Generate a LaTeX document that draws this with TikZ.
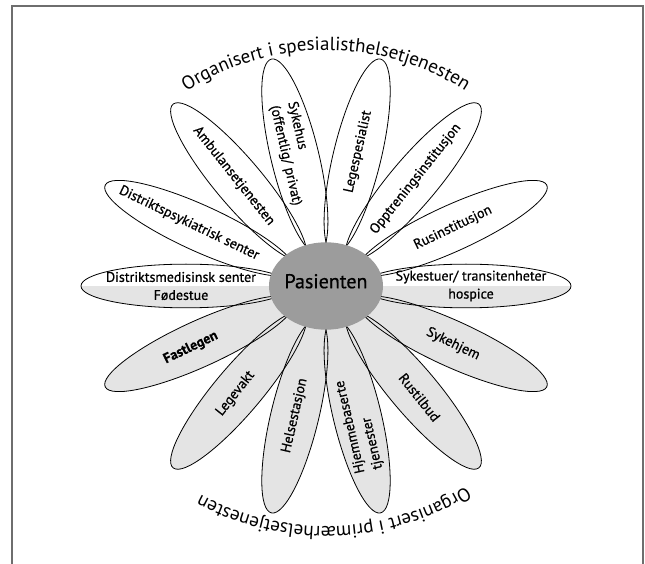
\documentclass[tikz,border=0pt]{standalone}
\usepackage{fontspec}
\setmainfont{PT Sans}
\newfontfamily\petalfont{PT Sans}[FakeBold=0.7]
\newfontfamily\heavyfont{PT Sans Bold}[FakeBold=0.6]
\usetikzlibrary{decorations.text}
\definecolor{petalgray}{HTML}{E4E4E4}
\definecolor{centergray}{HTML}{9C9C9C}
\definecolor{framegray}{HTML}{6E6E6E}
\begin{document}
\begin{tikzpicture}[x=1pt,y=1pt,
  petalline/.style={draw=black, line width=0.8pt},
  ptext/.style={font=\petalfont\fontsize{14}{18}\selectfont, align=center, inner sep=0pt},
  arctext/.style={decorate, decoration={text along path, text align=center, text={#1}}}
]
\useasboundingbox (-326,-278) rectangle (319,286);
\draw[framegray, line width=1.1pt] (-314,-280) -- (-314,280) -- (317,280) -- (317,-280);
\begin{scope}[yscale=0.95]
  % fills
  \foreach \a in {25.714,51.429,77.143,102.857,128.571,154.286}
    \fill[white, rotate=\a] (140,0) ellipse (105 and 24);
  \foreach \a in {205.714,231.429,257.143,282.857,308.571,334.286}
    \fill[petalgray, rotate=\a] (140,0) ellipse (105 and 24);
  \foreach \a in {0,180}
    \fill[petalgray, rotate=\a] (140,0) ellipse (105 and 23);
  \begin{scope}
    \clip (-300,0) rectangle (300,300);
    \foreach \a in {0,180}
      \fill[white, rotate=\a] (140,0) ellipse (105 and 23);
  \end{scope}
  % outlines
  \foreach \a in {25.714,51.429,77.143,102.857,128.571,154.286,205.714,231.429,257.143,282.857,308.571,334.286}
    \draw[petalline, rotate=\a] (140,0) ellipse (105 and 24);
  \foreach \a in {0,180}
    \draw[petalline, rotate=\a] (140,0) ellipse (105 and 23);
  % petal texts
  \node[ptext] (dms) at (180:145) {Distriktsmedisinsk senter\\Fødestue};
  \node[ptext, rotate=-25.714] (dps) at (154.286:152) {Distriktspsykiatrisk senter};
  \node[ptext, rotate=-51.429] (amb) at (128.571:148) {Ambulansetjenesten};
  \node[ptext, rotate=-77.143, align=left] (syh) at (102.857:143) {Sykehus\\(offentlig/ privat)};
  \node[ptext, rotate=77.143] (lsp) at (77.143:145) {Legespesialist};
  \node[ptext, rotate=51.429] (opp) at (51.429:144) {Opptreningsinstitusjon};
  \node[ptext, rotate=25.714] (rus) at (25.714:141) {Rusinstitusjon};
  \node[ptext] (sks) at (0:145) {Sykestuer/ transitenheter\\hospice};
  \node[ptext, rotate=-25.714] (skh) at (-25.714:141) {Sykehjem};
  \node[ptext, rotate=-51.429] (rtb) at (-51.429:150) {Rustilbud};
  \node[ptext, rotate=102.857, align=left] (hjt) at (-77.143:150) {Hjemmebaserte\\tjenester};
  \node[ptext, rotate=77.143] (hst) at (-102.857:140) {Helsestasjon};
  \node[ptext, rotate=51.429] (lgv) at (-128.571:145) {Legevakt};
  \node[ptext, rotate=25.714, font=\heavyfont\fontsize{14}{18}\selectfont] (fst) at (-154.286:150) {Fastlegen};
  % centre
  \fill[centergray] (0,0) ellipse (57 and 46);
  \node[font=\petalfont\fontsize{20}{22}\selectfont, inner sep=0pt] (pas) at (0,5) {Pasienten};
  % arc texts
  \path[arctext={|\fontsize{19}{21}\selectfont|Organisert i spesialisthelsetjenesten}]
    (160:248) arc[start angle=160, end angle=20, radius=248];
  \path[arctext={|\fontsize{19}{21}\selectfont|Organisert i primærhelsetjenesten}]
    (-19:253) arc[start angle=-19, end angle=-157, radius=253];
\end{scope}
\end{tikzpicture}
\end{document}
